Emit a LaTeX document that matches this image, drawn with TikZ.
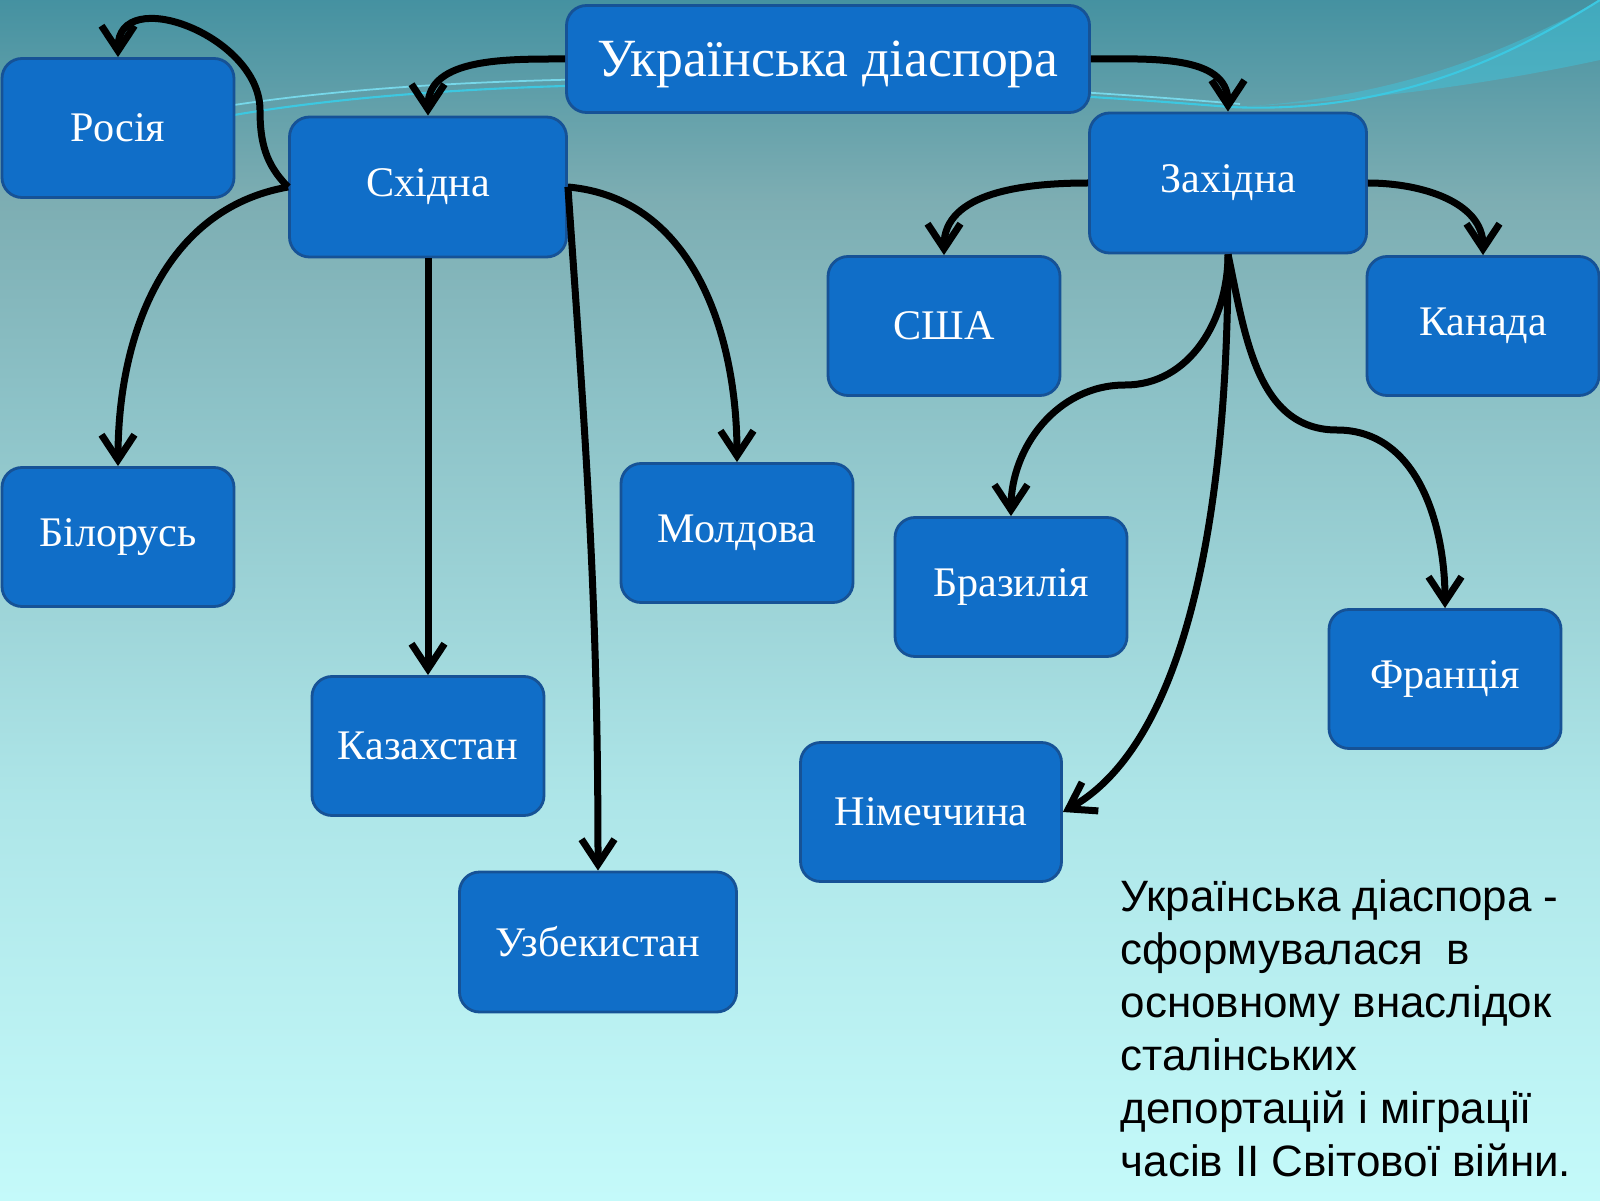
\documentclass[tikz,border=0pt]{standalone}
\usepackage{fontspec}
\setmainfont{Liberation Serif}
\newfontfamily\notefont{Liberation Sans}
\usetikzlibrary{arrows.meta}
\definecolor{boxblue}{RGB}{16,110,200}
\definecolor{boxedge}{RGB}{22,82,150}
\definecolor{swoosh}{RGB}{60,200,225}
\pgfdeclareverticalshading{slidebg}{100bp}{
  rgb(0bp)=(0.77,0.98,0.98);
  rgb(25bp)=(0.77,0.98,0.98);
  rgb(41.7bp)=(0.68,0.90,0.91);
  rgb(58.3bp)=(0.55,0.76,0.78);
  rgb(66.7bp)=(0.49,0.68,0.70);
  rgb(75bp)=(0.27,0.57,0.63);
  rgb(100bp)=(0.27,0.57,0.63)}
\begin{document}
\begin{tikzpicture}[
  every node/.style={font=\fontsize{12pt}{14pt}\selectfont},
  box/.style={rectangle,rounded corners=2mm,draw=boxedge,line width=0.8pt,fill=boxblue,text=white,minimum width=2.32cm,minimum height=1.39cm},
  widebox/.style={box,minimum width=2.77cm,minimum height=1.4cm},
  arr/.style={line width=0.7mm,-{Straight Barb[length=2.5mm,width=3.3mm]}}
]
% background
\shade[shading=slidebg] (0,0) rectangle (16,12);
\useasboundingbox (0,0) rectangle (16,12);
\fill[swoosh,opacity=0.45] (12.3,10.93) .. controls (14,11.0) and (15.3,11.25) .. (16,11.4) -- (16,12) .. controls (15.2,11.55) and (14,11.0) .. cycle;
\draw[swoosh,line width=0.6pt] (2.34,10.85) .. controls (5,11.3) and (9,11.2) .. (12.3,10.93) .. controls (14,10.85) and (15.2,11.5) .. (16,12);
\draw[swoosh!70!white,line width=0.5pt] (2.34,10.95) .. controls (5,11.35) and (9,11.25) .. (12.4,10.96);

% nodes
\node[box,minimum width=5.23cm,minimum height=1.07cm,text depth=0pt,font=\fontsize{15.3pt}{18pt}\selectfont] (ud) at (8.28,11.41) {Українська діаспора};
\node[widebox] (sx) at (4.28,10.13) {Східна};
\node[widebox] (zx) at (12.28,10.17) {Західна};
\node[box] (ros) at (1.18,10.72) {Росія};
\node[box] (bil) at (1.18,6.63) {Білорусь};
\node[box] (kaz) at (4.28,4.54) {Казахстан};
\node[widebox] (uzb) at (5.98,2.58) {Узбекистан};
\node[box] (mol) at (7.37,6.67) {Молдова};
\node[box] (usa) at (9.44,8.74) {США};
\node[box] (kan) at (14.83,8.74) {Канада};
\node[box] (bra) at (10.11,6.13) {Бразилія};
\node[box] (fra) at (14.45,5.21) {Франція};
\node[box,minimum width=2.61cm] (nim) at (9.31,3.88) {Німеччина};

\coordinate (rloop) at (2.60,10.9);
\coordinate (bturn) at (11.25,8.15);
\coordinate (fturn) at (13.37,7.70);

% arrows
\draw[arr] (ud.west) to[out=180,in=90] (sx.north);
\draw[arr] (ud.east) to[out=0,in=90] (zx.north);
\draw[arr] (sx.west) to[out=135,in=-90] (rloop) to[out=90,in=90,looseness=1.25] (ros.north);
\draw[arr] (sx.west) to[out=190,in=90] (bil.north);
\draw[arr] (sx.south) -- (kaz.north);
\draw[arr] (sx.east) to[out=-86,in=90] (uzb.north);
\draw[arr] (sx.east) to[out=-5,in=90] (mol.north);
\draw[arr] (zx.west) to[out=180,in=90] (usa.north);
\draw[arr] (zx.east) to[out=0,in=90] (kan.north);
\draw[arr] (zx.south) to[out=-90,in=0] (bturn) to[out=180,in=90] (bra.north);
\draw[arr] (zx.south) to[out=-78,in=180] (fturn) to[out=0,in=90] (fra.north);
\draw[arr] (zx.south) .. controls (12.28,7.0) and (11.9,4.6) .. (nim.east);

% note
\node[anchor=north west,align=left,inner sep=0pt,text=black,font=\notefont\fontsize{12.5pt}{15.1pt}\selectfont] (note) at (11.2,3.21)
  {Українська діаспора -\\сформувалася\hspace{0.25em} в\\основному внаслідок\\сталінських\\депортацій і міграції\\часів II Світової війни.};
\end{tikzpicture}
\end{document}
